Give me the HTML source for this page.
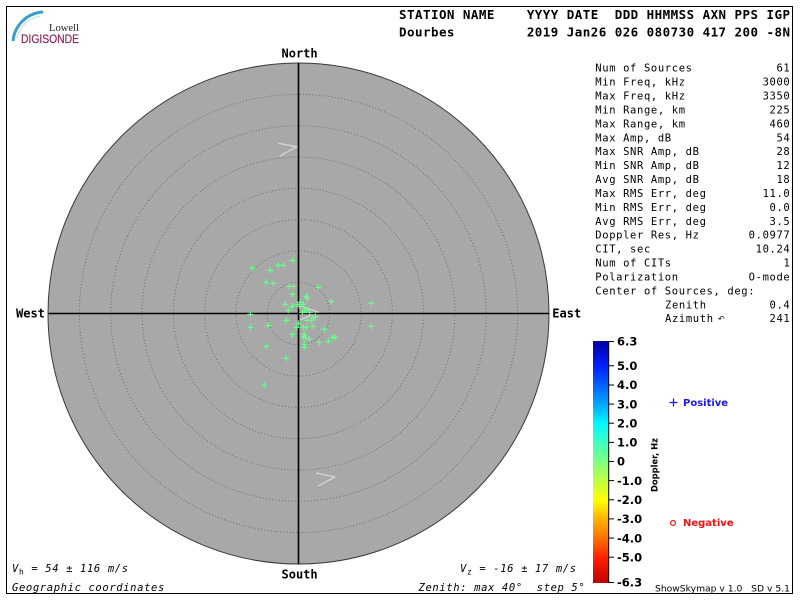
<!DOCTYPE html>
<html>
<head>
<meta charset="utf-8">
<style>
html,body{margin:0;padding:0;background:#fff;}
svg{display:block;}
.mono{font-family:"DejaVu Sans Mono","Liberation Mono",monospace;}
.sans{font-family:"DejaVu Sans","Liberation Sans",sans-serif;}
</style>
</head>
<body>
<svg width="800" height="600" viewBox="0 0 800 600" xmlns="http://www.w3.org/2000/svg">
<defs>
<linearGradient id="cb" x1="0" y1="0" x2="0" y2="1">
<stop offset="0" stop-color="#0000a0"/>
<stop offset="0.103" stop-color="#0020ff"/>
<stop offset="0.183" stop-color="#0060ff"/>
<stop offset="0.262" stop-color="#00a8ff"/>
<stop offset="0.341" stop-color="#00f8ff"/>
<stop offset="0.421" stop-color="#40ffc0"/>
<stop offset="0.5" stop-color="#80ff80"/>
<stop offset="0.579" stop-color="#c0ff40"/>
<stop offset="0.659" stop-color="#ffff00"/>
<stop offset="0.738" stop-color="#ffb000"/>
<stop offset="0.817" stop-color="#ff7000"/>
<stop offset="0.897" stop-color="#ff2000"/>
<stop offset="1" stop-color="#c00000"/>
</linearGradient>
</defs>
<rect x="0" y="0" width="800" height="600" fill="#fff"/>
<rect x="6.5" y="6.5" width="786" height="587" fill="none" stroke="#000" stroke-width="1"/>

<!-- logo -->
<path d="M13,41 A32,32 0 0 1 43,12" fill="none" stroke="#3a9cc8" stroke-width="3"/>
<path d="M17,38 A29,29 0 0 1 40,16" fill="none" stroke="#b8dcec" stroke-width="1"/>
<text x="49" y="31" font-family="'Liberation Serif','DejaVu Serif',serif" font-size="10.5" fill="#222" textLength="30" lengthAdjust="spacingAndGlyphs">Lowell</text>
<text x="21" y="43" font-family="'Liberation Sans','DejaVu Sans',sans-serif" font-size="11.5" fill="#8a2458" stroke="#8a2458" stroke-width="0.2" textLength="58" lengthAdjust="spacingAndGlyphs">DIGISONDE</text>

<!-- header -->
<text class="mono" x="399" y="19" font-size="12.5" font-weight="bold" textLength="391" lengthAdjust="spacing" xml:space="preserve">STATION NAME    YYYY DATE  DDD HHMMSS AXN PPS IGP</text>
<text class="mono" x="399" y="36.3" font-size="12.5" font-weight="bold" textLength="391" lengthAdjust="spacing" xml:space="preserve">Dourbes         2019 Jan26 026 080730 417 200 -8N</text>

<!-- sky circle -->
<circle cx="298.5" cy="313.5" r="250.5" fill="#a8a8a8" stroke="#3a3a3a" stroke-width="1"/>
<g fill="none" stroke="#6e6e6e" stroke-width="1" stroke-dasharray="1 2.2">
<circle cx="298.5" cy="313.5" r="31.3"/>
<circle cx="298.5" cy="313.5" r="62.6"/>
<circle cx="298.5" cy="313.5" r="93.9"/>
<circle cx="298.5" cy="313.5" r="125.2"/>
<circle cx="298.5" cy="313.5" r="156.5"/>
<circle cx="298.5" cy="313.5" r="187.8"/>
<circle cx="298.5" cy="313.5" r="219.1"/>
</g>
<!-- chevrons -->
<g fill="none" stroke="#d4d4d4" stroke-width="1.3">
<path d="M278.3,143.3 L296.7,146.7 L280,156"/>
<path d="M316,473 L335,477 L318,486"/>
<path d="M300,306 L318,312 L300,320"/>
</g>
<line x1="48" y1="313.5" x2="549" y2="313.5" stroke="#000" stroke-width="1.6"/>
<line x1="298.5" y1="63" x2="298.5" y2="564" stroke="#000" stroke-width="1.6"/>

<!-- points -->
<g fill="none" stroke="#66ff8c" stroke-width="1.1">
<path d="M249.3,268.3h6M252.3,265.3v6"/>
<path d="M267.3,270.3h6M270.3,267.3v6"/>
<path d="M275.3,265.3h6M278.3,262.3v6"/>
<path d="M280.3,265.3h6M283.3,262.3v6"/>
<path d="M289.3,260.3h6M292.3,257.3v6"/>
<path d="M263.3,282.3h6M266.3,279.3v6"/>
<path d="M270.3,283.3h6M273.3,280.3v6"/>
<path d="M286.3,286.3h6M289.3,283.3v6"/>
<path d="M290.3,286.3h6M293.3,283.3v6"/>
<path d="M315.3,287.3h6M318.3,284.3v6"/>
<path d="M289.3,294.3h6M292.3,291.3v6"/>
<path d="M303.3,296.3h6M306.3,293.3v6"/>
<path d="M304.3,298.3h6M307.3,295.3v6"/>
<path d="M328.3,301.3h6M331.3,298.3v6"/>
<path d="M368.3,303.3h6M371.3,300.3v6"/>
<path d="M282.3,304.3h6M285.3,301.3v6"/>
<path d="M294.3,304.3h6M297.3,301.3v6"/>
<path d="M297,302.3h6M300,299.3v6"/>
<path d="M300.3,304.3h6M303.3,301.3v6"/>
<path d="M296.3,306.3h6M299.3,303.3v6"/>
<path d="M289.3,306.3h6M292.3,303.3v6"/>
<path d="M285.3,310.3h6M288.3,307.3v6"/>
<path d="M301.3,310.3h6M304.3,307.3v6"/>
<path d="M303.3,310.3h6M306.3,307.3v6"/>
<path d="M306.6,312.3h6M309.6,309.3v6"/>
<path d="M299.3,312.3h6M302.3,309.3v6"/>
<path d="M247.3,314.3h6M250.3,311.3v6"/>
<path d="M312.3,316.3h6M315.3,313.3v6"/>
<path d="M310.3,318.3h6M313.3,315.3v6"/>
<path d="M283.3,320.3h6M286.3,317.3v6"/>
<path d="M304.3,320.3h6M307.3,317.3v6"/>
<path d="M308.3,320.3h6M311.3,317.3v6"/>
<path d="M265.3,325.3h6M268.3,322.3v6"/>
<path d="M247.3,327.3h6M250.3,324.3v6"/>
<path d="M295.3,323.3h6M298.3,320.3v6"/>
<path d="M293.3,327.3h6M296.3,324.3v6"/>
<path d="M300.3,327.3h6M303.3,324.3v6"/>
<path d="M303.3,327.3h6M306.3,324.3v6"/>
<path d="M310.3,326.3h6M313.3,323.3v6"/>
<path d="M368.3,326.3h6M371.3,323.3v6"/>
<path d="M321.3,329.3h6M324.3,326.3v6"/>
<path d="M289.3,334.3h6M292.3,331.3v6"/>
<path d="M301.3,334.3h6M304.3,331.3v6"/>
<path d="M302.3,337.3h6M305.3,334.3v6"/>
<path d="M306.3,339.3h6M309.3,336.3v6"/>
<path d="M300.3,337.3h6M303.3,334.3v6"/>
<path d="M329.6,337.3h6M332.6,334.3v6"/>
<path d="M332.3,337.3h6M335.3,334.3v6"/>
<path d="M325.3,341.3h6M328.3,338.3v6"/>
<path d="M316.3,342.3h6M319.3,339.3v6"/>
<path d="M263.3,346.3h6M266.3,343.3v6"/>
<path d="M301.3,344.3h6M304.3,341.3v6"/>
<path d="M301.3,347.3h6M304.3,344.3v6"/>
<path d="M283.3,358.3h6M286.3,355.3v6"/>
<path d="M261.3,385.3h6M264.3,382.3v6"/>
</g>

<!-- compass labels -->
<g class="mono" font-size="12" font-weight="bold" fill="#000">
<text x="281.5" y="57.3">North</text>
<text x="281.5" y="578.3">South</text>
<text x="16" y="317.5">West</text>
<text x="552.3" y="317.5">East</text>
</g>

<!-- right panel -->
<g class="mono" font-size="10.5" fill="#000" letter-spacing="0.63">
<text x="595.3" y="71.7">Num of Sources</text>
<text x="595.3" y="85.6">Min Freq, kHz</text>
<text x="595.3" y="99.5">Max Freq, kHz</text>
<text x="595.3" y="113.5">Min Range, km</text>
<text x="595.3" y="127.4">Max Range, km</text>
<text x="595.3" y="141.3">Max Amp, dB</text>
<text x="595.3" y="155.2">Max SNR Amp, dB</text>
<text x="595.3" y="169.1">Min SNR Amp, dB</text>
<text x="595.3" y="183.1">Avg SNR Amp, dB</text>
<text x="595.3" y="197.0">Max RMS Err, deg</text>
<text x="595.3" y="210.9">Min RMS Err, deg</text>
<text x="595.3" y="224.8">Avg RMS Err, deg</text>
<text x="595.3" y="238.7">Doppler Res, Hz</text>
<text x="595.3" y="252.7">CIT, sec</text>
<text x="595.3" y="266.6">Num of CITs</text>
<text x="595.3" y="280.5">Polarization</text>
<text x="595.3" y="294.4">Center of Sources, deg:</text>
<text x="665" y="308.3">Zenith</text>
<text x="665" y="322.2">Azimuth</text>
</g>
<text x="718" y="321.5" font-family="'DejaVu Sans',sans-serif" font-size="8" fill="#000">↶</text>
<g class="mono" font-size="10.5" fill="#000" letter-spacing="0.63" text-anchor="end">
<text x="790.4" y="71.7">61</text>
<text x="790.4" y="85.6">3000</text>
<text x="790.4" y="99.5">3350</text>
<text x="790.4" y="113.5">225</text>
<text x="790.4" y="127.4">460</text>
<text x="790.4" y="141.3">54</text>
<text x="790.4" y="155.2">28</text>
<text x="790.4" y="169.1">12</text>
<text x="790.4" y="183.1">18</text>
<text x="790.4" y="197.0">11.0</text>
<text x="790.4" y="210.9">0.0</text>
<text x="790.4" y="224.8">3.5</text>
<text x="790.4" y="238.7">0.0977</text>
<text x="790.4" y="252.7">10.24</text>
<text x="790.4" y="266.6">1</text>
<text x="790.4" y="280.5">O-mode</text>
<text x="790.4" y="308.3">0.4</text>
<text x="790.4" y="322.2">241</text>
</g>

<!-- colorbar -->
<rect x="593" y="341" width="15.5" height="242" fill="url(#cb)"/>
<line x1="608.7" y1="341" x2="608.7" y2="583" stroke="#000" stroke-width="1"/>
<g stroke="#000" stroke-width="1">
<line x1="608.7" y1="341.5" x2="614" y2="341.5"/>
<line x1="608.7" y1="365.8" x2="614" y2="365.8"/>
<line x1="608.7" y1="385" x2="614" y2="385"/>
<line x1="608.7" y1="404.1" x2="614" y2="404.1"/>
<line x1="608.7" y1="423.2" x2="614" y2="423.2"/>
<line x1="608.7" y1="442.4" x2="614" y2="442.4"/>
<line x1="608.7" y1="461.5" x2="614" y2="461.5"/>
<line x1="608.7" y1="480.6" x2="614" y2="480.6"/>
<line x1="608.7" y1="499.8" x2="614" y2="499.8"/>
<line x1="608.7" y1="518.9" x2="614" y2="518.9"/>
<line x1="608.7" y1="538.1" x2="614" y2="538.1"/>
<line x1="608.7" y1="557.2" x2="614" y2="557.2"/>
<line x1="608.7" y1="582.5" x2="614" y2="582.5"/>
</g>
<g class="sans" font-size="11.5" font-weight="bold" fill="#000">
<text x="617" y="345.7">6.3</text>
<text x="617" y="370">5.0</text>
<text x="617" y="389.2">4.0</text>
<text x="617" y="408.3">3.0</text>
<text x="617" y="427.4">2.0</text>
<text x="617" y="446.6">1.0</text>
<text x="617" y="465.7">0</text>
<text x="617" y="484.8">-1.0</text>
<text x="617" y="504">-2.0</text>
<text x="617" y="523.1">-3.0</text>
<text x="617" y="542.3">-4.0</text>
<text x="617" y="561.4">-5.0</text>
<text x="617" y="586.7">-6.3</text>
</g>
<text class="sans" font-size="8.5" font-weight="bold" fill="#000" transform="translate(657.5,465) rotate(-90)" text-anchor="middle" textLength="54" lengthAdjust="spacingAndGlyphs">Doppler, Hz</text>

<!-- legend -->
<path d="M669.5,402.5h8M673.5,398.5v8" stroke="#1a1aee" stroke-width="1.3" fill="none"/>
<text class="sans" x="683" y="406.2" font-size="10" font-weight="bold" fill="#1a1aee">Positive</text>
<circle cx="673" cy="523" r="2.4" fill="none" stroke="#ee1111" stroke-width="1.2"/>
<text class="sans" x="683" y="526.2" font-size="10" font-weight="bold" fill="#ee1111">Negative</text>

<!-- bottom texts -->
<g class="mono" font-size="10.5" font-style="italic" fill="#000" letter-spacing="0.63">
<text x="12" y="572.2" xml:space="preserve">V<tspan font-size="8" dy="2.5" font-style="normal">h</tspan><tspan dy="-2.5"> = 54 ± 116 m/s</tspan></text>
<text x="12" y="591">Geographic coordinates</text>
<text x="460" y="572.2" xml:space="preserve">V<tspan font-size="8" dy="2.5" font-style="normal">z</tspan><tspan dy="-2.5"> = -16 ± 17 m/s</tspan></text>
<text x="418.5" y="591" xml:space="preserve">Zenith: max 40°  step 5°</text>
</g>
<text class="sans" x="655" y="591.7" font-size="9" fill="#000" textLength="135" lengthAdjust="spacingAndGlyphs" xml:space="preserve">ShowSkymap v 1.0   SD v 5.1</text>
</svg>
</body>
</html>
